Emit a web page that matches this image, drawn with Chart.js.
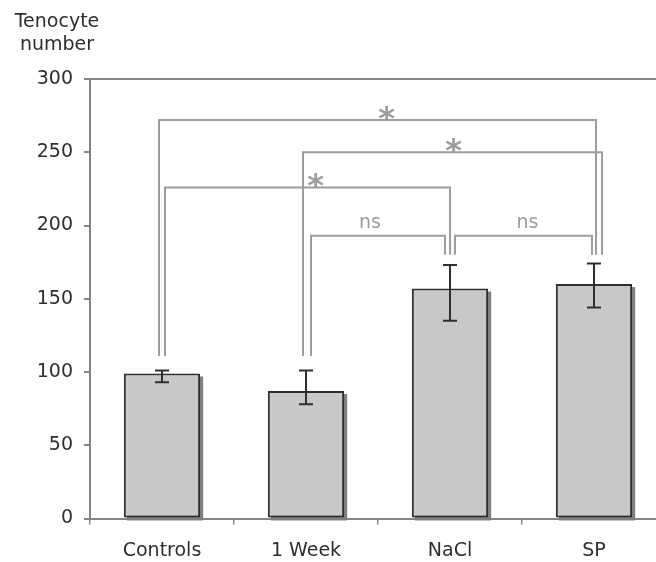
<!DOCTYPE html>
<html>
<head>
<meta charset="utf-8">
<script src="https://cdn.jsdelivr.net/npm/chart.js@4.4.1/dist/chart.umd.min.js"></script>
<style>
    body { margin: 0; overflow: hidden; background: #fff; }
    #wrap { position: absolute; left: 0; top: 0; width: 666px; height: 562px; }
</style>
</head>
<body>
<div id="wrap"><canvas id="barChart" width="666" height="562"></canvas></div>
<script>
// data
const groups = ['Controls', '1 Week', 'NaCl', 'SP'];
const tenocytes = [99, 87, 157, 160];
const errUp = [2, 14, 16, 14];
const errDown = [6, 9, 22, 16];
const yTicks = [0, 50, 100, 150, 200, 250, 300];

// significance brackets
const bracketFrom = [0, 1, 0, 1, 2];
const bracketTo = [3, 3, 2, 2, 3];
const bracketLevel = [272, 250, 226, 193, 193];
const bracketLabel = ['*', '*', '*', 'ns', 'ns'];
const legBottom = [111, 111, 180, 180];

const FONT = '"DejaVu Sans", Verdana, sans-serif';
const INK = '#2e2e2e';
const AXIS = '#858585';
const BRACKET = '#9d9d9d';

// pixel nudges so the doubled legs don't sit on top of each other
const legShift = [[-3, 2], [-3, 8], [3, 0], [5, -5], [5, -2]];
const labelShift = [9, 1, 8, -8, 4];

// grey drop shadow on the right of each bar, drawn before the bars
const barShadow = {
    id: 'barShadow',
    beforeDatasetsDraw(chart) {
        const ctx = chart.ctx;
        const meta = chart.getDatasetMeta(0);
        ctx.save();
        ctx.fillStyle = '#808080';
        meta.data.forEach(bar => {
            const left = bar.x - bar.width / 2;
            ctx.fillRect(left + 3, bar.y + 3, bar.width, bar.base - bar.y);
        });
        ctx.restore();
    }
};

const extras = {
    id: 'extras',
    afterDatasetsDraw(chart) {
        const ctx = chart.ctx;
        const x = chart.scales.x;
        const y = chart.scales.y;

        // error bars
        ctx.save();
        ctx.strokeStyle = INK;
        ctx.lineWidth = 2;
        for (let i = 0; i < groups.length; i++) {
            const cx = x.getPixelForValue(i);
            const top = y.getPixelForValue(tenocytes[i] + errUp[i]);
            const bot = y.getPixelForValue(tenocytes[i] - errDown[i]);
            ctx.beginPath();
            ctx.moveTo(cx, top); ctx.lineTo(cx, bot);
            ctx.moveTo(cx - 7, top); ctx.lineTo(cx + 7, top);
            ctx.moveTo(cx - 7, bot); ctx.lineTo(cx + 7, bot);
            ctx.stroke();
        }
        ctx.restore();

        // brackets
        ctx.save();
        ctx.strokeStyle = BRACKET;
        ctx.fillStyle = BRACKET;
        ctx.lineWidth = 2;
        ctx.textAlign = 'center';
        ctx.textBaseline = 'alphabetic';
        for (let b = 0; b < bracketFrom.length; b++) {
            const a = bracketFrom[b], c = bracketTo[b];
            const x1 = x.getPixelForValue(a) + legShift[b][0];
            const x2 = x.getPixelForValue(c) + legShift[b][1];
            const yl = y.getPixelForValue(bracketLevel[b]);
            ctx.beginPath();
            ctx.moveTo(x1, y.getPixelForValue(legBottom[a]));
            ctx.lineTo(x1, yl);
            ctx.lineTo(x2, yl);
            ctx.lineTo(x2, y.getPixelForValue(legBottom[c]));
            ctx.stroke();

            const mx = (x1 + x2) / 2 + labelShift[b];
            if (bracketLabel[b] === '*') {
                ctx.font = 'bold 32px ' + FONT;
                ctx.fillText('*', mx, yl + 9);
            } else {
                ctx.font = '19px ' + FONT;
                ctx.fillText(bracketLabel[b], mx, yl - 8);
            }
        }
        ctx.restore();
    },
    afterDraw(chart) {
        const ctx = chart.ctx;
        ctx.save();
        ctx.fillStyle = INK;
        ctx.font = '19px ' + FONT;
        ctx.textAlign = 'center';
        ctx.textBaseline = 'middle';
        ctx.fillText('Tenocyte', 57, 22);
        ctx.fillText('number', 57, 45);
        ctx.restore();
    }
};

new Chart(document.querySelector('#barChart'), {
    type: 'bar',
    data: {
        labels: groups,
        datasets: [{
            data: tenocytes,
            backgroundColor: '#c8c8ca',
            borderColor: INK,
            borderWidth: 2,
            borderSkipped: false,
            categoryPercentage: 1,
            barPercentage: 0.53
        }]
    },
    options: {
        responsive: false,
        animation: false,
        layout: { padding: { top: 79, left: 0, right: 0, bottom: 0 } },
        plugins: {
            legend: { display: false },
            tooltip: { enabled: false }
        },
        scales: {
            x: {
                afterFit(scale) { scale.height = 43.5; },
                border: { color: AXIS, width: 2 },
                grid: { drawOnChartArea: false, tickLength: 6, tickColor: AXIS, lineWidth: 1.5 },
                ticks: { color: INK, font: { family: FONT, size: 19 }, padding: 15 }
            },
            y: {
                min: 0,
                max: 300,
                afterFit(scale) { scale.width = 90; },
                afterBuildTicks(scale) { scale.ticks = yTicks.map(v => ({ value: v })); },
                border: { color: AXIS, width: 2 },
                grid: {
                    color: c => (c.tick && c.tick.value === 300) ? AXIS : 'rgba(0,0,0,0)',
                    lineWidth: 2,
                    tickLength: 6,
                    tickColor: AXIS
                },
                ticks: { color: INK, font: { family: FONT, size: 19 }, padding: 11 }
            }
        }
    },
    plugins: [barShadow, extras]
});
</script>
</body>
</html>
